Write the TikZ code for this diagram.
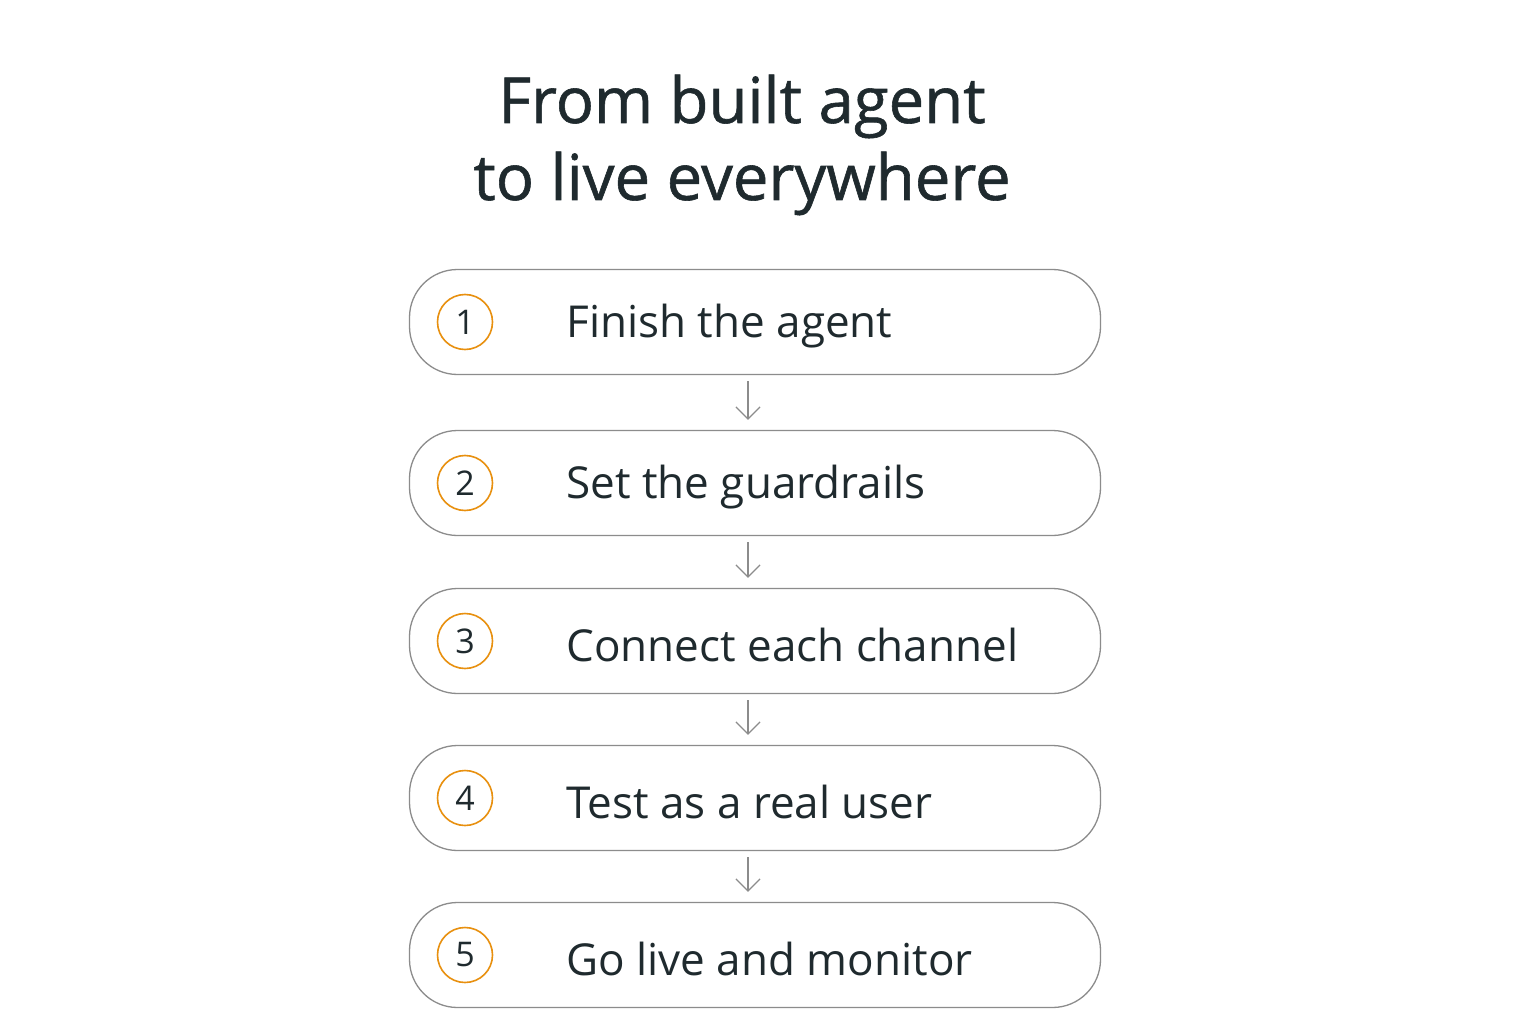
\documentclass[tikz,border=0pt]{standalone}
\usepackage{fontspec}
\setmainfont{Open Sans}
\newfontfamily\titlefont[FakeBold=0.9]{Open Sans}
\usetikzlibrary{arrows.meta}
\definecolor{ink}{HTML}{1F2A2E}
\definecolor{edge}{HTML}{8C8C8C}
\definecolor{ring}{HTML}{E8900F}
\tikzset{
  stepbox/.style={draw=edge,line width=1.3pt,rounded corners=48pt,minimum width=691pt,minimum height=105pt,fill=white},
  numring/.style={circle,draw=ring,line width=1.6pt,minimum size=55pt,inner sep=0pt,text=ink,font=\fontsize{34}{40}\selectfont},
  steptext/.style={anchor=west,text=ink,font=\fontsize{44}{52}\selectfont},
  down/.style={draw=edge,line width=1.3pt,shorten <=6pt,shorten >=10pt,-{Straight Barb[length=12pt,width=24pt,line width=1.3pt]}}
}
\begin{document}
\begin{tikzpicture}[x=1pt,y=-1pt]
\useasboundingbox[fill=white] (0,0) rectangle (1536,1024);
\node[text=ink,align=center,font=\titlefont\fontsize{63.5}{77}\selectfont] (title) at (742,145) {From built agent\\to live everywhere};
%boxes
\node[stepbox] (s1) at (755,322) {};
\node[stepbox] (s2) at (755,483) {};
\node[stepbox] (s3) at (755,641) {};
\node[stepbox] (s4) at (755,798) {};
\node[stepbox] (s5) at (755,955) {};
%numbers
\node[numring] (n1) at (465,322) {1};
\node[numring] (n2) at (465,483) {2};
\node[numring] (n3) at (465,641) {3};
\node[numring] (n4) at (465,798) {4};
\node[numring] (n5) at (465,955) {5};
%labels
\node[steptext] (t1) at (563,326) {Finish the agent};
\node[steptext] (t2) at (563,487) {Set the guardrails};
\node[steptext] (t3) at (563,645) {Connect each channel};
\node[steptext] (t4) at (563,802) {Test as a real user};
\node[steptext] (t5) at (563,959) {Go live and monitor};
%arrows
\draw[down] ([xshift=-7pt]s1.south) -- ([xshift=-7pt]s2.north);
\draw[down] ([xshift=-7pt]s2.south) -- ([xshift=-7pt]s3.north);
\draw[down] ([xshift=-7pt]s3.south) -- ([xshift=-7pt]s4.north);
\draw[down] ([xshift=-7pt]s4.south) -- ([xshift=-7pt]s5.north);
\end{tikzpicture}
\end{document}
